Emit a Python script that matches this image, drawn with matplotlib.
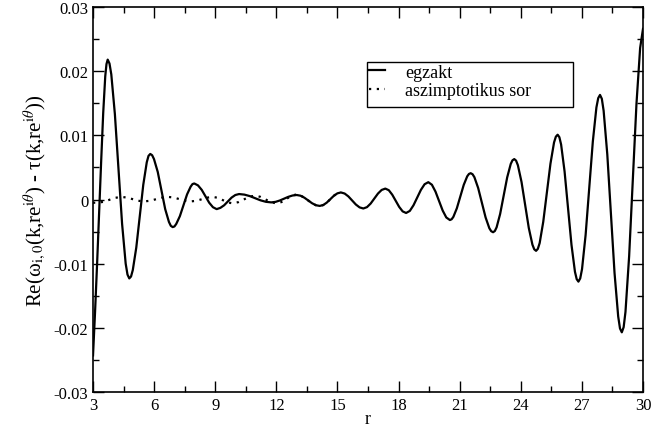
import matplotlib
matplotlib.use("Agg")
import matplotlib.pyplot as plt
from matplotlib.ticker import MultipleLocator
from matplotlib.patches import Rectangle

plt.rcParams['font.family'] = ['Liberation Serif', 'DejaVu Serif']
plt.rcParams['mathtext.fontset'] = 'stix'

# egzakt (solid), one row per half-oscillation
r_egzakt = [3.00, 3.10, 3.20, 3.30, 3.40, 3.50, 3.60, 3.66, 3.72,
            3.808, 3.897, 4.073, 4.25, 4.427, 4.603, 4.692, 4.78,
            4.866, 4.952, 5.123, 5.295, 5.467, 5.638, 5.724, 5.81,
            5.902, 5.993, 6.177, 6.36, 6.543, 6.727, 6.818, 6.91,
            6.998, 7.087, 7.263, 7.44, 7.617, 7.793, 7.882, 7.97,
            8.153, 8.337, 8.52, 8.703, 8.887, 9.07,
            9.253, 9.437, 9.62, 9.803, 9.987, 10.17,
            10.433, 10.697, 10.96, 11.223, 11.487, 11.75,
            11.958, 12.167, 12.375, 12.583, 12.792, 13.0,
            13.188, 13.377, 13.565, 13.753, 13.942, 14.13,
            14.303, 14.477, 14.65, 14.823, 14.997, 15.17,
            15.353, 15.537, 15.72, 15.903, 16.087, 16.27,
            16.45, 16.63, 16.81, 16.99, 17.17, 17.35,
            17.52, 17.69, 17.86, 18.03, 18.20, 18.37,
            18.552, 18.733, 18.915, 19.097, 19.278, 19.46,
            19.637, 19.813, 19.99, 20.167, 20.343, 20.52,
            20.605, 20.69, 20.86, 21.03, 21.20, 21.37, 21.455, 21.54,
            21.632, 21.723, 21.907, 22.09, 22.273, 22.457, 22.548, 22.64,
            22.727, 22.813, 22.987, 23.16, 23.333, 23.507, 23.593, 23.68,
            23.769, 23.858, 24.037, 24.215, 24.393, 24.572, 24.661, 24.75,
            24.838, 24.927, 25.103, 25.28, 25.457, 25.633, 25.722, 25.81,
            25.895, 25.98, 26.15, 26.32, 26.49, 26.66, 26.745, 26.83,
            26.918, 27.007, 27.183, 27.36, 27.537, 27.713, 27.802, 27.89,
            27.979, 28.068, 28.247, 28.425, 28.603, 28.782, 28.871, 28.96,
            29.05, 29.14, 29.32, 29.50, 29.68, 29.86, 30.0]
v_egzakt = [-0.0243, -0.0175, -0.0100, -0.0020, 0.0060, 0.0135, 0.0192, 0.0211, 0.0218,
            0.0212, 0.0195, 0.0133, 0.0048, -0.0038, -0.0100, -0.0117, -0.0123,
            -0.0120, -0.0110, -0.0075, -0.0026, 0.0023, 0.0058, 0.0068, 0.0071,
            0.0069, 0.0063, 0.0043, 0.0014, -0.0015, -0.0035, -0.0041, -0.0043,
            -0.0042, -0.0038, -0.0026, -0.0009, 0.0008, 0.0020, 0.0024, 0.0025,
            0.0022, 0.0015, 0.0005, -0.0005, -0.0012, -0.0015,
            -0.0013, -0.0009, -0.0003, 0.0003, 0.0007, 0.00085,
            0.00076, 0.00053, 0.0002, -0.00013, -0.00036, -0.00045,
            -0.00037, -0.00016, 0.00013, 0.00041, 0.00062, 0.0007,
            0.00059, 0.00028, -0.00015, -0.00058, -0.00089, -0.0010,
            -0.00086, -0.00048, 0.00005, 0.00058, 0.00096, 0.0011,
            0.00093, 0.00048, -0.00015, -0.00078, -0.00123, -0.0014,
            -0.00119, -0.00063, 0.00015, 0.00093, 0.00149, 0.0017,
            0.00145, 0.00075, -0.0002, -0.00115, -0.00185, -0.0021,
            -0.00178, -0.0009, 0.0003, 0.0015, 0.00238, 0.0027,
            0.0023, 0.00123, -0.00025, -0.00173, -0.0028, -0.0032,
            -0.00308, -0.00271, -0.00138, 0.00045, 0.00228, 0.00361, 0.00398, 0.0041,
            0.00394, 0.00348, 0.0018, -0.0005, -0.0028, -0.00448, -0.00494, -0.0051,
            -0.00491, -0.00434, -0.00225, 0.0006, 0.00345, 0.00554, 0.00611, 0.0063,
            0.00606, 0.00534, 0.00273, -0.00085, -0.00443, -0.00704, -0.00776, -0.0080,
            -0.00769, -0.00679, -0.00348, 0.00105, 0.00558, 0.00889, 0.00979, 0.0101,
            0.00971, 0.00857, 0.00438, -0.00135, -0.00708, -0.01127, -0.01241, -0.0128,
            -0.0123, -0.01085, -0.00553, 0.00175, 0.00903, 0.01435, 0.0158, 0.0163,
            0.0157, 0.01382, 0.00705, -0.0022, -0.01145, -0.01822, -0.0201, -0.0207,
            -0.0199, -0.01752, -0.00883, 0.00305, 0.01493, 0.02362, 0.0266]

# aszimptotikus sor (dotted)
r_aszimp = [3.0, 3.2, 3.5, 3.8, 4.1, 4.4, 4.675, 4.95, 5.225, 5.5,
            5.8, 6.1, 6.4, 6.7, 6.975, 7.25, 7.525, 7.8, 8.075, 8.35,
            8.625, 8.9, 9.14, 9.375, 9.61, 9.85, 10.125, 10.4, 10.675, 10.95,
            11.21, 11.475, 11.74, 12.0, 12.25, 12.5, 12.75, 13.0,
            13.188, 13.377, 13.565, 13.753, 13.942, 14.13,
            14.303, 14.477, 14.65, 14.823, 14.997, 15.17]
v_aszimp = [-0.0005, -0.0005, -0.00037, -0.00005, 0.00027, 0.0004, 0.0003, 0.00005, -0.0002, -0.0003,
            -0.0002, 0.00005, 0.0003, 0.0004, 0.0003, 0.00005, -0.0002, -0.0003, -0.0002, 0.00005,
            0.0003, 0.0004, 0.00025, -0.0001, -0.00045, -0.0006, -0.00042, 0.0, 0.00042, 0.0006,
            0.00042, 0.0, -0.00042, -0.0006, -0.0004, 0.0001, 0.0006, 0.0008,
            0.00062, 0.00028, -0.00015, -0.00058, -0.00089, -0.0010,
            -0.00086, -0.00048, 0.00005, 0.00058, 0.00096, 0.0011]

y_ticks = [-0.03, -0.02, -0.01, 0, 0.01, 0.02, 0.03]
y_ticklabels = ['-0.03', '-0.02', '-0.01', '0', '0.01', '0.02', '0.03']

fig = plt.figure(figsize=(6.51, 4.31), dpi=100)
ax = fig.add_axes([0.1429, 0.0882, 0.8448, 0.8932])

ax.plot(r_egzakt, v_egzakt, color='black', lw=1.6, label='egzakt')
ax.plot(r_aszimp, v_aszimp, color='black', lw=1.6, linestyle=(0, (1, 2.5)),
        label='aszimptotikus sor')

ax.set_xlim(3, 30)
ax.set_ylim(-0.03, 0.03)
ax.xaxis.set_major_locator(MultipleLocator(3))
ax.xaxis.set_minor_locator(MultipleLocator(1.5))
ax.yaxis.set_minor_locator(MultipleLocator(0.005))
ax.set_yticks(y_ticks)
ax.set_yticklabels(y_ticklabels)
ax.tick_params(which='both', direction='in', top=True, right=True, labelsize=12, width=1)
ax.tick_params(which='major', length=8)
ax.tick_params(which='minor', length=4)
for s in ax.spines.values():
    s.set_linewidth(1.2)

ax.set_xlabel('r', fontsize=13, labelpad=-2)
ax.set_ylabel('Re(ω$_{\\mathrm{i,0}}$(k,re$^{\\mathrm{i}θ}$) - τ(k,re$^{\\mathrm{i}θ}$))',
              fontsize=15, labelpad=4)

# legend box (xmgrace style: wide frame on the right)
ax.add_patch(Rectangle((0.4982, 0.7403), 0.3745, 0.1168, transform=ax.transAxes,
                       facecolor='white', edgecolor='black', lw=1.0, zorder=4))
leg = ax.legend(loc='upper left', bbox_to_anchor=(0.5018, 0.853), fontsize=13,
                frameon=False, handlelength=0.9, handletextpad=1.1,
                borderpad=0, labelspacing=0.1, borderaxespad=0)
leg.set_zorder(5)

fig.savefig('out.png', dpi=100)
